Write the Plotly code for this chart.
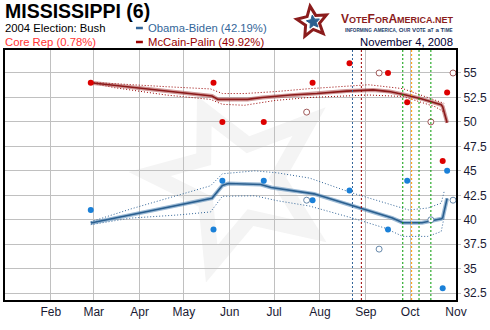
import math
import plotly.graph_objects as go

# ---------------- data ----------------
poll_dates = ["2008-02-28", "2008-05-21", "2008-05-27", "2008-06-24", "2008-07-27",
              "2008-08-21", "2008-09-16", "2008-09-29", "2008-10-23", "2008-10-26"]
obama_poll = [41, 39, 44, 44, 42, 43, 39, 44, 33, 45]
mccain_poll = [54, 54, 50, 50, 54, 56, 55, 52, 46, 53]

open_dates = ["2008-07-23", "2008-09-10", "2008-10-15", "2008-10-30"]
obama_open = [42, 37, 40, 42]
mccain_open = [51, 55, 50, 55]

mc_trend_dates = ["2008-02-28", "2008-03-26", "2008-04-28", "2008-05-20", "2008-05-24",
                  "2008-06-13", "2008-06-23", "2008-07-12", "2008-07-30", "2008-08-19",
                  "2008-09-06", "2008-09-17", "2008-09-28", "2008-10-09", "2008-10-22",
                  "2008-10-23", "2008-10-26"]
mc_trend = [54.0, 53.55, 53.0, 52.65, 52.3, 52.3, 52.5, 52.75, 52.9, 53.15,
            53.27, 53.1, 52.75, 52.35, 51.75, 51.55, 49.92]

mc_band_dates = ["2008-02-28", "2008-03-15", "2008-04-19", "2008-05-19", "2008-05-27",
                 "2008-06-11", "2008-07-02", "2008-07-25", "2008-09-03", "2008-09-26",
                 "2008-10-18", "2008-10-22", "2008-10-24"]
mc_upper = [54.05, 53.9, 53.6, 53.37, 52.9, 52.9, 53.1, 53.4, 53.8, 53.4, 52.25, 52.0, 51.9]
mc_lower = [54.0, 53.5, 52.75, 52.3, 51.8, 51.7, 52.2, 52.5, 52.75, 52.6, 51.55, 51.2, 51.0]

ob_trend_dates = ["2008-02-28", "2008-03-26", "2008-04-28", "2008-05-20", "2008-05-27",
                  "2008-05-31", "2008-06-22", "2008-06-29", "2008-07-28", "2008-08-19",
                  "2008-08-28", "2008-09-19", "2008-09-26", "2008-10-09", "2008-10-22",
                  "2008-10-23", "2008-10-26"]
ob_trend = [39.66, 40.5, 41.5, 42.2, 43.5, 43.7, 43.6, 43.3, 42.65, 41.6,
            41.2, 40.17, 39.7, 39.7, 40.1, 40.2, 42.19]

ob_band_dates = ["2008-02-28", "2008-03-26", "2008-04-28", "2008-05-19", "2008-05-27",
                 "2008-06-18", "2008-07-03", "2008-07-25", "2008-08-23", "2008-09-14",
                 "2008-09-26", "2008-09-30", "2008-10-13", "2008-10-22", "2008-10-24"]
ob_upper = [39.8, 41.1, 42.55, 43.47, 44.7, 45.0, 44.8, 44.26, 42.73, 41.7,
            41.2, 41.0, 41.2, 41.7, 42.9]
ob_lower = [39.5, 40.17, 40.5, 40.8, 42.4, 42.45, 41.95, 41.4, 40.17, 39.15,
            38.3, 38.3, 38.3, 38.8, 40.3]

event_dates = ["2008-08-23", "2008-08-29", "2008-09-26", "2008-10-02", "2008-10-07", "2008-10-15"]
event_colors = ["#336699", "#990000", "#009900", "#ff9900", "#009900", "#009900"]

month_ticks = ["2008-02-01", "2008-03-01", "2008-04-01", "2008-05-01", "2008-06-01",
               "2008-07-01", "2008-08-01", "2008-09-01", "2008-10-01", "2008-11-01"]
month_labels = ["Feb", "Mar", "Apr", "May", "Jun", "Jul", "Aug", "Sep", "Oct", "Nov"]
y_ticks = [32.5, 35, 37.5, 40, 42.5, 45, 47.5, 50, 52.5, 55]
y_labels = ["32.5", "35", "37.5", "40", "42.5", "45", "47.5", "50", "52.5", "55"]

# ---------------- layout helpers ----------------
W, H = 490, 330
PL, PR, PT, PB = 3, 461, 50, 300


def px(x):
    return (x - PL) / (PR - PL)


def py(y):
    return (PB - y) / (PB - PT)


BLUE = "#336699"
RED = "#8b1a1a"
FONT = "Arial, Liberation Sans, sans-serif"

fig = go.Figure()

# bands
for d, up, lo, c in [(mc_band_dates, mc_upper, mc_lower, "#990000"),
                     (ob_band_dates, ob_upper, ob_lower, "#336699")]:
    for vals in (up, lo):
        fig.add_trace(go.Scatter(x=d, y=vals, mode="lines",
                                 line=dict(color=c, width=1, dash="1px,2px"),
                                 hoverinfo="skip", showlegend=False))

# trends (halo + core)
for d, v, halo, core in [(mc_trend_dates, mc_trend, "rgba(170,70,70,0.55)", RED),
                         (ob_trend_dates, ob_trend, "rgba(90,140,185,0.6)", "#2a5f8f")]:
    fig.add_trace(go.Scatter(x=d, y=v, mode="lines", line=dict(color=halo, width=4),
                             hoverinfo="skip", showlegend=False))
    fig.add_trace(go.Scatter(x=d, y=v, mode="lines", line=dict(color=core, width=1.6),
                             showlegend=False))

# polls
fig.add_trace(go.Scatter(x=poll_dates, y=mccain_poll, mode="markers",
                         marker=dict(color="#dd0000", size=6), showlegend=False))
fig.add_trace(go.Scatter(x=poll_dates, y=obama_poll, mode="markers",
                         marker=dict(color="#1a80d8", size=6), showlegend=False))
fig.add_trace(go.Scatter(x=open_dates, y=mccain_open, mode="markers",
                         marker=dict(color="white", size=6, line=dict(color="#a05a5a", width=1)),
                         showlegend=False))
fig.add_trace(go.Scatter(x=open_dates, y=obama_open, mode="markers",
                         marker=dict(color="white", size=6, line=dict(color="#6688aa", width=1)),
                         showlegend=False))

shapes = []
# event lines
for d, c in zip(event_dates, event_colors):
    shapes.append(dict(type="line", xref="x", yref="paper", x0=d, x1=d, y0=0, y1=1,
                       line=dict(color=c, width=1, dash="2px,2px"), layer="above"))


def star_path(cx, cy, r_out, r_in, rot_deg):
    pts = []
    for i in range(10):
        r = r_out if i % 2 == 0 else r_in
        a = math.radians(rot_deg + i * 36)
        pts.append((cx + r * math.sin(a), cy - r * math.cos(a)))
    return "M " + " L ".join(f"{px(x):.5f},{py(y):.5f}" for x, y in pts) + " Z"


# watermark star (outer tips measured in pixels)
tips = [(201.7, 103.3), (320.0, 115.0), (321.7, 236.7), (210.0, 273.3), (140.0, 173.3)]
cx = sum(p[0] for p in tips) / 5
cy = sum(p[1] for p in tips) / 5
wpts = []
for i in range(5):
    a, b = tips[i], tips[(i + 1) % 5]
    ta = (cx + 0.9 * (a[0] - cx), cy + 0.9 * (a[1] - cy))
    wpts.append(ta)
    mx, my = (a[0] + b[0]) / 2, (a[1] + b[1]) / 2
    wpts.append((cx + 0.5 * (mx - cx), cy + 0.5 * (my - cy)))
wpath = "M " + " L ".join(f"{px(x):.5f},{py(y):.5f}" for x, y in wpts) + " Z"
shapes.append(dict(type="path", xref="paper", yref="paper", path=wpath,
                   line=dict(color="#f4f4f4", width=15), fillcolor="rgba(0,0,0,0)", layer="below"))

# logo stars
shapes.append(dict(type="path", xref="paper", yref="paper",
                   path=star_path(315, 22, 16, 7.5, -8),
                   line=dict(color="#8b1c1c", width=3), fillcolor="rgba(0,0,0,0)", layer="above"))
shapes.append(dict(type="path", xref="paper", yref="paper",
                   path=star_path(316, 22, 7, 3.2, -8),
                   line=dict(color="#2a5f8f", width=1), fillcolor="#2a5f8f", layer="above"))

# legend dashes
shapes.append(dict(type="line", xref="paper", yref="paper", x0=px(136), x1=px(143),
                   y0=py(28), y1=py(28), line=dict(color=BLUE, width=2.5)))
shapes.append(dict(type="line", xref="paper", yref="paper", x0=px(136), x1=px(143),
                   y0=py(42), y1=py(42), line=dict(color="#990000", width=2.5)))

ann = []


def text(x, y, s, size, color, anchor="left", family=FONT):
    ann.append(dict(xref="paper", yref="paper", x=px(x), y=py(y), text=s, showarrow=False,
                    xanchor=anchor, yanchor="middle", font=dict(size=size, color=color, family=family)))


text(1, 11, "<b>MISSISSIPPI (6)</b>", 19.5, "#000000")
text(1, 28.5, "2004 Election: Bush", 11.3, "#000000")
text(1, 42, "Core Rep (0.78%)", 11.3, "#ff3333")
text(146, 28.5, "Obama-Biden (42.19%)", 11.3, BLUE)
text(146, 42, "McCain-Palin (49.92%)", 11.3, "#990000")
text(460, 42, "November 4, 2008", 11.3, "#000033", anchor="right")


def smallcaps(s, big, small):
    out = []
    for w in s.split(" "):
        out.append(f"<span style='font-size:{big}px'>{w[0]}</span>"
                   f"<span style='font-size:{small}px'>{w[1:].upper()}</span>")
    return " ".join(out)


text(461, 19, "<b>" + f"<span style='font-size:12px'>V</span><span style='font-size:9px'>OTE</span>"
     f"<span style='font-size:12px'>F</span><span style='font-size:9px'>OR</span>"
     f"<span style='font-size:12px'>A</span><span style='font-size:9px'>MERICA.NET</span>" + "</b>",
     12, "#8b1c1c", anchor="right")
text(460, 30, "<b>" + smallcaps("Informing America, Our Vote at a Time", 6.2, 4.6) + "</b>",
     6.2, "#1a3a6a", anchor="right")

fig.update_layout(
    width=W, height=H,
    margin=dict(l=PL, r=W - PR, t=PT, b=H - PB, pad=0),
    paper_bgcolor="white", plot_bgcolor="white",
    showlegend=False,
    shapes=shapes, annotations=ann,
    font=dict(family=FONT, size=12, color="#000000"),
    xaxis=dict(type="date", range=["2008-01-01", "2008-11-01"],
               tickvals=month_ticks, ticktext=month_labels,
               showgrid=True, gridcolor="#c0c0c0", gridwidth=1,
               showline=True, linecolor="#000000", linewidth=2, mirror=True,
               ticks="", tickfont=dict(size=12, color="#1a1a33"), zeroline=False),
    yaxis=dict(range=[31.8, 57.35], side="right", tickvals=y_ticks, ticktext=y_labels,
               showgrid=True, gridcolor="#c0c0c0", gridwidth=1,
               showline=True, linecolor="#000000", linewidth=2, mirror=True,
               ticks="outside", ticklen=3, tickcolor="#c0c0c0",
               tickfont=dict(size=12, color="#1a1a33"), zeroline=False),
)

fig.write_html("out.html")
